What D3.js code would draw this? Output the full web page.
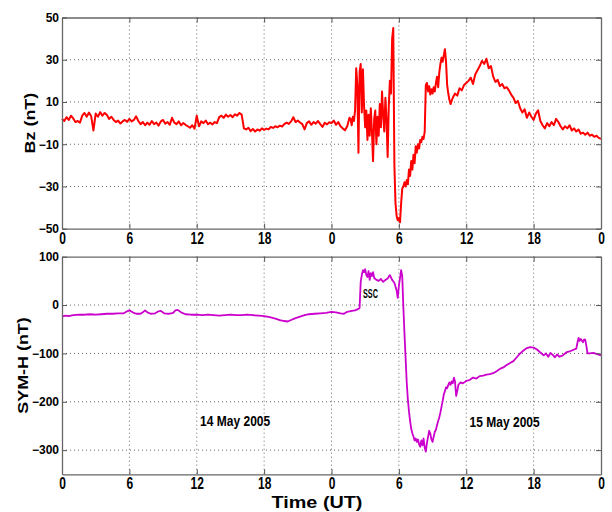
<!DOCTYPE html>
<html>
<head>
<meta charset="utf-8">
<script src="https://cdn.jsdelivr.net/npm/d3@7"></script>
<style>
  body { margin: 0; background: #fff; }
  text { font-family: Arial, "Liberation Sans", sans-serif; font-weight: bold; fill: #000; }
</style>
</head>
<body>
<svg width="612" height="512"></svg>
<script>
// hours since 00 UT, 14 May 2005
const hourTicks = [0, 6, 12, 18, 24, 30, 36, 42, 48];
const hourLabels = ["0", "6", "12", "18", "0", "6", "12", "18", "0"];
const bzTicks = [50, 30, 10, -10, -30, -50];
const symTicks = [100, 0, -100, -200, -300];

// IMF Bz (nT), 0 - 25.6 h every 0.2 h
const bzQuiet = [
  2.0, 1.0, 2.8, 1.5, 3.5, 2.2, 0.5, 1.0, 0.2, 3.5,
  4.8, 3.0, 5.0, 3.2, -3.5, 4.5, 3.0, 5.2, 3.5, 4.8,
  3.8, 2.0, 3.0, 1.5, 0.5, 1.2, -0.2, 0.8, 1.5, 0.6,
  2.0, 0.8, 1.5, 3.2, 1.0, -0.5, 0.5, -1.0, 0.2, -0.8,
  1.0, -0.5, 0.3, -1.2, 0.8, 1.5, -0.3, 0.5, -0.8, 2.5,
  0.2, -0.5, 0.8, -1.0, 0.0, -0.8, -1.5, -2.2, -1.0, -2.6,
  3.5, -1.5, 0.8, 0.0, 1.2, -0.5, 0.2, -0.6, 0.5, 0.0,
  2.8, 3.5, 2.5, 4.0, 3.0, 3.8, 2.8, 4.2, 3.5, 4.8,
  4.0, -2.5, -3.0, -2.2, -3.8, -2.8, -4.0, -3.0, -3.6, -2.5,
  -3.2, -2.6, -3.0, -1.8, -2.3, -1.5, -2.0, -1.2, -1.6, -0.5,
  0.2, -0.4, 0.8, 2.8, 0.5, 1.2, 0.3, -0.5, -3.0, 0.0,
  0.8, -0.8, 0.5, -0.3, 1.0, -0.5, -1.8, 0.2, -0.6, 0.4,
  0.0, 1.2, -0.8, 0.5, -1.5, -2.5, -3.4, -1.5, 2.5
];
// 25.7 - 34.5 h every 0.1 h
const bzStorm = [
  2.0, -1.0, 3.0, 1.0, 6.0, 26.0, 18.0, -14.0, 24.0, 28.0,
  5.0, 25.5, 8.0, -2.0, 6.0, -8.0, 4.0, -6.0, 7.0, -4.0,
  -18.0, 2.0, 6.0, -10.0, 3.0, -6.0, 9.0, -2.0, 15.0, 4.0,
  -4.0, 12.0, 2.0, -16.0, 8.0, 20.0, 14.0, 40.0, 45.0, -20.0,
  -38.0, -44.0, -46.0, -45.0, -47.0, -38.0, -31.0, -30.0, -28.0, -30.0,
  -27.0, -29.0, -22.0, -25.0, -18.0, -22.0, -15.0, -19.0, -11.0, -14.0,
  -10.0, -12.0, -8.0, -9.0, -6.5, -7.5, -4.0, 18.0, 19.0, 15.0,
  17.5, 13.5, 16.0, 14.0, 17.0, 15.0, 19.0, 22.0, 17.0, 24.0,
  28.0, 31.0, 29.0, 32.0, 35.0, 29.0, 18.0, 14.0, 11.0
];
// 34.6 - 48 h every 0.2 h
const bzRecovery = [
  9.0, 12.0, 14.0, 13.0, 16.5, 15.5, 18.0, 19.0, 20.0, 21.5,
  18.5, 23.0, 25.0, 27.0, 29.5, 28.0, 30.5, 26.0, 27.0, 22.0,
  19.5, 20.5, 17.5, 18.5, 16.5, 17.0, 15.5, 13.5, 12.0, 9.5,
  10.5, 7.0, 5.0, 6.5, 2.5, 5.0, 3.0, 1.5, 4.5, 6.0,
  1.0, -1.0, -2.5, 0.0, -1.5, 0.5, -1.0, 2.0, 0.5, -1.5,
  -3.0, -1.5, -2.5, -1.0, -3.5, -2.5, -4.0, -3.0, -5.0, -4.5,
  -5.5, -4.5, -6.0, -5.5, -6.5, -6.0, -7.0, -7.5
];

// SYM-H (nT): [hour, value]
const symH = [
  [0,-24],[0.3,-22],[0.6,-23],[1,-21],[1.5,-20],[2,-20],[2.5,-19],[3,-20],[3.5,-19],[4,-18],
  [4.5,-18],[5,-17],[5.5,-17],[5.8,-13],[6.0,-11],[6.3,-15],[6.6,-18],[7,-18],[7.2,-15],[7.4,-11],
  [7.6,-15],[7.9,-18],[8.3,-17],[8.6,-13],[8.8,-12],[9.1,-17],[9.5,-18],[9.9,-16],[10.1,-11],[10.3,-10],
  [10.6,-15],[11,-19],[11.5,-20],[12,-20],[12.5,-21],[13,-20],[13.5,-21],[14,-22],[14.5,-21],[15,-20],
  [15.5,-21],[16,-21],[16.5,-20],[17,-21],[17.5,-22],[18,-23],[18.5,-25],[19,-28],[19.4,-31],[19.8,-33],
  [20.1,-34],[20.4,-31],[20.8,-27],[21.2,-24],[21.6,-21],[22,-19],[22.5,-18],[23,-17],[23.5,-16],[24,-14],
  [24.4,-15],[24.8,-17],[25.1,-18],[25.4,-14],[25.8,-12],[26.1,-11],[26.4,-8],[26.5,-6],[26.6,48],[26.7,62],
  [26.8,72],[26.9,68],[27.0,74],[27.1,62],[27.2,58],[27.3,70],[27.4,52],[27.5,66],[27.6,60],[27.7,68],
  [27.8,56],[27.9,54],[28.0,52],[28.2,50],[28.4,54],[28.6,48],[28.8,52],[29.0,55],[29.2,62],[29.4,52],
  [29.6,46],[29.8,30],[29.9,15],[30.0,40],[30.1,55],[30.2,72],[30.3,60],[30.4,-5],[30.5,-60],[30.6,-110],
  [30.7,-160],[30.8,-195],[30.9,-220],[31.0,-240],[31.1,-256],[31.2,-265],[31.3,-272],[31.4,-280],[31.5,-276],[31.6,-283],
  [31.7,-278],[31.8,-288],[31.9,-293],[32.0,-280],[32.1,-290],[32.2,-276],[32.3,-295],[32.4,-303],[32.5,-285],[32.6,-272],
  [32.7,-260],[32.8,-266],[32.9,-278],[33.0,-283],[33.1,-272],[33.2,-262],[33.3,-258],[33.4,-248],[33.5,-240],[33.6,-232],
  [33.7,-222],[33.8,-210],[33.9,-198],[34.0,-185],[34.1,-178],[34.2,-170],[34.3,-172],[34.4,-165],[34.5,-160],[34.6,-165],
  [34.7,-158],[34.8,-162],[34.9,-150],[35.0,-158],[35.1,-188],[35.2,-178],[35.3,-165],[35.5,-160],[35.7,-162],[36.0,-157],
  [36.3,-155],[36.6,-150],[36.9,-152],[37.2,-147],[37.5,-146],[37.8,-144],[38.1,-143],[38.4,-141],[38.7,-137],[39.0,-132],
  [39.3,-129],[39.6,-124],[39.9,-120],[40.2,-116],[40.5,-108],[40.8,-100],[41.1,-94],[41.4,-89],[41.7,-87],[42.0,-88],
  [42.3,-92],[42.6,-98],[42.9,-104],[43.1,-100],[43.3,-107],[43.5,-99],[43.7,-103],[43.9,-108],[44.1,-102],[44.3,-107],
  [44.6,-104],[44.9,-98],[45.2,-96],[45.5,-93],[45.8,-90],[45.9,-78],[46.0,-68],[46.1,-74],[46.2,-70],[46.4,-77],
  [46.5,-71],[46.6,-72],[46.7,-85],[46.8,-100],[47.0,-100],[47.3,-99],[47.6,-101],[48.0,-104]
];

const series = (start, step, values) => values.map((v, i) => [start + i * step, v]);
const bzData = [
  ...series(0, 0.2, bzQuiet),
  ...series(25.7, 0.1, bzStorm),
  ...series(34.6, 0.2, bzRecovery)
];

const svg = d3.select("svg");
const left = 62, right = 601;
const x = d3.scaleLinear().domain([0, 48]).range([left, right]);

function panel(top, bottom, yDomain, yTicks, data, color, width, label, labelX) {
  const y = d3.scaleLinear().domain(yDomain).range([bottom, top]);
  const g = svg.append("g");

  // dotted grid
  g.selectAll(".vgrid").data(hourTicks.slice(1, -1)).join("line")
    .attr("x1", d => x(d)).attr("x2", d => x(d))
    .attr("y1", top).attr("y2", bottom)
    .attr("stroke", "#666").attr("stroke-dasharray", "1,3");
  g.selectAll(".hgrid").data(yTicks.filter(d => d !== yDomain[1] && d !== yDomain[0])).join("line")
    .attr("x1", left).attr("x2", right)
    .attr("y1", d => y(d)).attr("y2", d => y(d))
    .attr("stroke", "#666").attr("stroke-dasharray", "1,3");

  // curve
  g.append("path").datum(data)
    .attr("fill", "none").attr("stroke", color).attr("stroke-width", width)
    .attr("stroke-linejoin", "round")
    .attr("d", d3.line().x(d => x(d[0])).y(d => y(d[1])));

  // axes with inward ticks on all four sides
  const ax = g.append("g").attr("transform", `translate(0,${bottom})`)
    .call(d3.axisBottom(x).tickValues(hourTicks).tickFormat((d, i) => hourLabels[i])
      .tickSize(-5).tickSizeOuter(0).tickPadding(2.7));
  ax.selectAll("text").attr("font-size", 12).attr("transform", "scale(1,1.35)");

  g.append("g").attr("transform", `translate(0,${top})`)
    .call(d3.axisTop(x).tickValues(hourTicks).tickFormat("").tickSize(-5).tickSizeOuter(0));

  const ay = g.append("g").attr("transform", `translate(${left},0)`)
    .call(d3.axisLeft(y).tickValues(yTicks).tickSize(-5).tickSizeOuter(0).tickPadding(3));
  ay.selectAll("text").attr("font-size", 12);

  g.append("g").attr("transform", `translate(${right},0)`)
    .call(d3.axisRight(y).tickValues(yTicks).tickFormat("").tickSize(-5).tickSizeOuter(0));

  g.selectAll(".domain").attr("stroke", "#666").attr("stroke-width", 1.3);
  g.selectAll(".tick line").attr("stroke", "#555");

  svg.append("text")
    .attr("transform", `translate(${labelX},${(top + bottom) / 2}) rotate(-90) scale(1.28,1)`)
    .attr("text-anchor", "middle").attr("dy", "0.35em")
    .attr("font-size", 14).text(label);

  return y;
}

panel(17.5, 228.7, [-50, 50], bzTicks, bzData, "#ff0000", 2, "Bz (nT)", 30);
const sy = panel(256.7, 474.3, [-350, 100], symTicks, symH, "#cc00cc", 1.8, "SYM-H (nT)", 23.5);

// annotations
svg.append("text")
  .attr("transform", `translate(${x(26.8)},${sy(14)})`)
  .attr("font-size", 12).attr("font-weight", "normal")
  .attr("textLength", 15).attr("lengthAdjust", "spacingAndGlyphs")
  .text("SSC");

svg.append("text")
  .attr("transform", `translate(${x(12.3)},${sy(-250)}) scale(1,1.25)`)
  .attr("font-size", 12).text("14 May 2005");
svg.append("text")
  .attr("transform", `translate(${x(36.3)},${sy(-253)}) scale(1,1.25)`)
  .attr("font-size", 12).text("15 May 2005");

svg.append("text")
  .attr("transform", "translate(317,508) scale(1.2,1)")
  .attr("text-anchor", "middle").attr("font-size", 16.5)
  .text("Time (UT)");
</script>
</body>
</html>
